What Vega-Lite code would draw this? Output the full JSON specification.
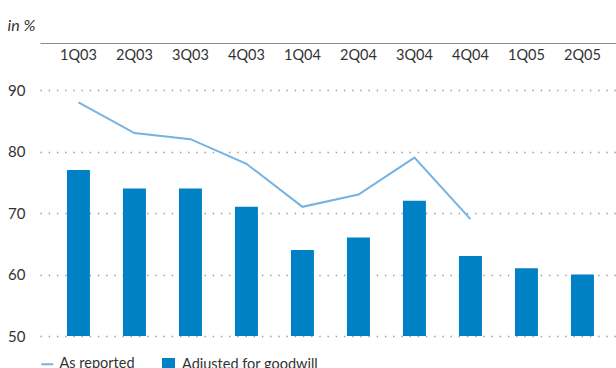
{
  "$schema": "https://vega.github.io/schema/vega-lite/v6.json",
  "autosize": "none",
  "width": 576,
  "height": 246,
  "padding": {"left": 40, "top": 90, "right": 0, "bottom": 32},
  "background": "white",
  "title": {
    "text": "in %",
    "anchor": "start",
    "dx": 0,
    "offset": 9,
    "font": "Lato",
    "fontSize": 16,
    "fontStyle": "italic",
    "fontWeight": "normal",
    "color": "#333333"
  },
  "config": {
    "view": {"stroke": null},
    "font": "Lato",
    "axis": {"labelFont": "Lato", "labelColor": "#333333"},
    "legend": {"labelFont": "Lato", "labelFontSize": 14.5, "labelColor": "#333333", "padding": 0, "offset": 0}
  },
  "data": {
    "values": [
      {"q": "1Q03", "reported": 88, "adjusted": 77},
      {"q": "2Q03", "reported": 83, "adjusted": 74},
      {"q": "3Q03", "reported": 82, "adjusted": 74},
      {"q": "4Q03", "reported": 78, "adjusted": 71},
      {"q": "1Q04", "reported": 71, "adjusted": 64},
      {"q": "2Q04", "reported": 73, "adjusted": 66},
      {"q": "3Q04", "reported": 79, "adjusted": 72},
      {"q": "4Q04", "reported": 69, "adjusted": 63},
      {"q": "1Q05", "reported": null, "adjusted": 61},
      {"q": "2Q05", "reported": null, "adjusted": 60}
    ]
  },
  "encoding": {
    "x": {
      "field": "q",
      "type": "ordinal",
      "sort": null,
      "scale": {"paddingInner": 0.59, "paddingOuter": 0.438, "align": 0.55},
      "axis": {
        "orient": "top",
        "title": null,
        "offset": 47,
        "domain": true,
        "domainColor": "#8a8a8a",
        "domainWidth": 1.2,
        "ticks": false,
        "tickSize": 0,
        "labelPadding": -12,
        "labelBaseline": "middle",
        "labelAngle": 0,
        "labelFontSize": 14.5,
        "grid": false
      }
    }
  },
  "layer": [
    {
      "mark": {"type": "bar", "clip": false},
      "encoding": {
        "y": {
          "field": "adjusted",
          "type": "quantitative",
          "scale": {"domain": [50, 90], "nice": false, "zero": false},
          "axis": {
            "title": null,
            "values": [50, 55, 60, 65, 70, 75, 80, 85, 90],
            "labelExpr": "datum.value % 10 === 0 ? datum.label : ''",
            "domain": false,
            "ticks": false,
            "labelPadding": 15,
            "labelFontSize": 15,
            "grid": true,
            "gridColor": "#9a9a9a",
            "gridDash": [1.4, 6.8],
            "gridWidth": 1.3
          }
        },
        "y2": {"datum": 50},
        "fill": {
          "datum": "Adjusted for goodwill",
          "scale": {"range": ["#0081c6"]},
          "legend": {
            "title": null,
            "orient": "none",
            "legendX": 121,
            "legendY": 267,
            "symbolType": "square",
            "symbolSize": 169,
            "labelOffset": 6
          }
        }
      }
    },
    {
      "mark": {"type": "line", "strokeWidth": 2, "clip": false},
      "encoding": {
        "y": {"field": "reported", "type": "quantitative"},
        "stroke": {
          "datum": "As reported",
          "scale": {"range": ["#74b3e3"]},
          "legend": {
            "title": null,
            "orient": "none",
            "legendX": 0,
            "legendY": 267,
            "symbolType": "stroke",
            "symbolSize": 144,
            "symbolStrokeWidth": 2,
            "labelOffset": 5
          }
        }
      }
    },
    {
      "mark": {"type": "rule", "color": "#8c8c8e", "strokeWidth": 4.5},
      "encoding": {"y": {"datum": 50}}
    }
  ]
}
